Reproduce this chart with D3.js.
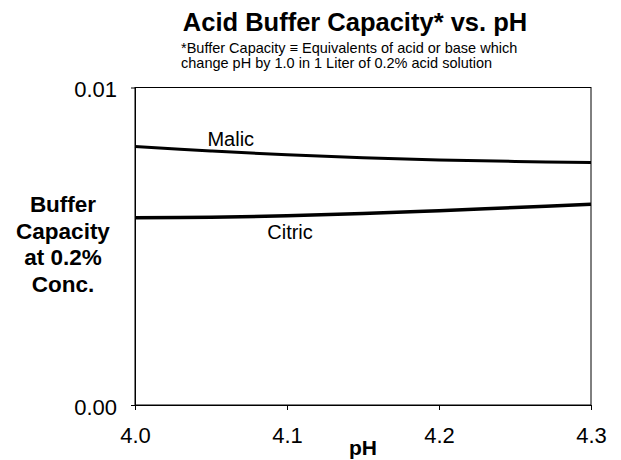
<!DOCTYPE html>
<html>
<head>
<meta charset="utf-8">
<script src="https://cdn.jsdelivr.net/npm/d3@7"></script>
<style>
  body { margin: 0; background: #fff; }
  svg { font-family: "Liberation Sans", Arial, sans-serif; }
</style>
</head>
<body>
<svg id="chart" width="621" height="460"></svg>
<script>
// pH values sampled along the curves
var phValues = [4.0, 4.05, 4.1, 4.15, 4.2, 4.25, 4.3];
var malicValues = [0.00814, 0.00800, 0.00788, 0.00779, 0.00772, 0.00767, 0.00764];
var citricValues = [0.00590, 0.00591, 0.00596, 0.00603, 0.00612, 0.00622, 0.00632];
var xTicks = [4.0, 4.1, 4.2, 4.3];
var yTicks = [0, 0.01];
var yLabel = ["Buffer", "Capacity", "at 0.2%", "Conc."];

var svg = d3.select("#chart");

var plotLeft = 135, plotRight = 591, plotTop = 87.5, plotBottom = 405;

var x = d3.scaleLinear().domain([4.0, 4.3]).range([plotLeft, plotRight]);
var y = d3.scaleLinear().domain([0, 0.01]).range([plotBottom, plotTop]);

// plot frame
svg.append("rect")
    .attr("x", plotLeft).attr("y", plotTop)
    .attr("width", plotRight - plotLeft).attr("height", plotBottom - plotTop)
    .attr("fill", "none").attr("stroke", "#000").attr("stroke-width", 1);

// x axis
var xAxis = svg.append("g")
    .attr("transform", "translate(0," + plotBottom + ")")
    .call(d3.axisBottom(x).tickValues(xTicks).tickFormat(d3.format(".1f"))
        .tickSize(5).tickSizeOuter(0).tickPadding(17));
xAxis.select(".domain").attr("stroke", "#000");
xAxis.selectAll("line").attr("stroke", "#000");
xAxis.selectAll("text").attr("font-size", 22).attr("fill", "#000")
    .attr("font-family", "Liberation Sans, Arial, sans-serif");

// y axis
var yAxis = svg.append("g")
    .attr("transform", "translate(" + plotLeft + ",0)")
    .call(d3.axisLeft(y).tickValues(yTicks).tickFormat(d3.format(".2f"))
        .tickSize(4).tickSizeOuter(0).tickPadding(14));
yAxis.select(".domain").attr("stroke", "#000");
yAxis.selectAll("line").attr("stroke", "#000");
yAxis.selectAll("text").attr("font-size", 22).attr("fill", "#000")
    .attr("dy", "0.42em")
    .attr("font-family", "Liberation Sans, Arial, sans-serif");

var line = d3.line()
    .x(function(d, i) { return x(phValues[i]); })
    .y(function(d) { return y(d); })
    .curve(d3.curveCatmullRom);

svg.append("path").datum(malicValues)
    .attr("d", line).attr("fill", "none")
    .attr("stroke", "#000").attr("stroke-width", 3);

svg.append("path").datum(citricValues)
    .attr("d", line).attr("fill", "none")
    .attr("stroke", "#000").attr("stroke-width", 3.5);

// series labels
svg.append("text").attr("x", x(4.063)).attr("y", 146)
    .attr("font-size", 20).attr("text-anchor", "middle").text("Malic");
svg.append("text").attr("x", x(4.102)).attr("y", 239)
    .attr("font-size", 20).attr("text-anchor", "middle").text("Citric");

// title
svg.append("text").attr("x", 355).attr("y", 31)
    .attr("font-size", 25.5).attr("font-weight", "bold")
    .attr("text-anchor", "middle").text("Acid Buffer Capacity* vs. pH");
svg.append("text").attr("x", 181).attr("y", 53)
    .attr("font-size", 14.5).text("*Buffer Capacity \u2261 Equivalents of acid or base which");
svg.append("text").attr("x", 181).attr("y", 68)
    .attr("font-size", 14.5).text("change pH by 1.0 in 1 Liter of 0.2% acid solution");

// axis titles
svg.append("text").attr("x", (plotLeft + plotRight) / 2).attr("y", 455)
    .attr("font-size", 21).attr("font-weight", "bold")
    .attr("text-anchor", "middle").text("pH");

svg.append("g").selectAll("text").data(yLabel).enter().append("text")
    .attr("x", 63)
    .attr("y", function(d, i) { return 212 + i * 26.5; })
    .attr("font-size", 22.5).attr("font-weight", "bold")
    .attr("text-anchor", "middle")
    .text(function(d) { return d; });
</script>
</body>
</html>
